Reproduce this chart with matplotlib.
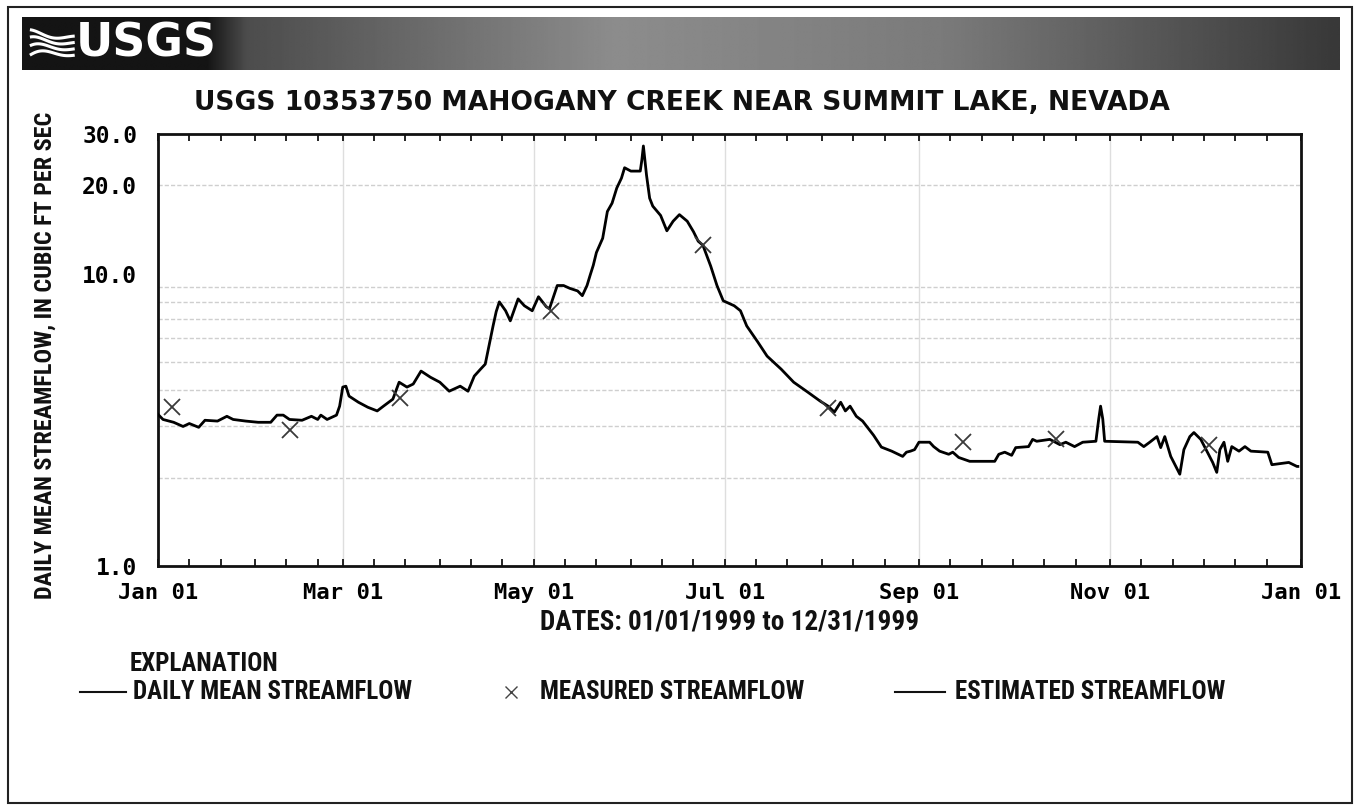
import numpy as np
import pandas as pd
import matplotlib
matplotlib.use("Agg")
import matplotlib.pyplot as plt
import matplotlib.dates as mdates
from matplotlib import font_manager as fm
from matplotlib.lines import Line2D
from matplotlib.patches import Rectangle
from matplotlib.ticker import NullLocator, FixedLocator

# ---------------- data ----------------
title = "USGS 10353750 MAHOGANY CREEK NEAR SUMMIT LAKE, NEVADA"
ylabel = "DAILY MEAN STREAMFLOW, IN CUBIC FT PER SEC"
xlabel = "DATES: 01/01/1999 to 12/31/1999"
start_date = "1999-01-01"
end_date = "2000-01-01"

# daily mean streamflow: day offset from Jan 1 1999, value (cfs)
flow_days = [0, 1.6, 5, 8, 10, 13, 15, 19, 22, 24, 28, 32, 36, 38, 40, 42, 46, 49, 51, 52,
             54, 57, 58, 59, 60, 61, 64, 67, 70, 72, 75, 77, 79.5, 81.5, 84, 87, 90, 93, 96.5, 99,
             101, 103, 104.5, 105.5, 107, 108, 109, 111, 112.5, 115, 117, 119.5, 121.5, 124, 125,
             127.5, 129.5, 131.5, 134, 135.5, 137, 138, 139, 140, 142, 143.5, 145, 146.5, 148, 149,
             151, 154, 154.5, 155, 155.5, 156, 157, 158, 160.5, 162.5, 164.5, 166.5, 169, 171, 172.5,
             174, 176.5, 178.5, 180.5, 184, 186, 188, 191.5, 194.5, 199, 203, 207.5, 211.5, 214, 216,
             218, 219.5, 221, 223, 225, 228.5, 231, 234.3, 237.8, 239, 240.3, 241.6, 243, 246.4,
             247.7, 249.6, 252.5, 253.8, 255.7, 259.2, 261.7, 267.2, 268.5, 270.4, 272.6, 273.9,
             278, 279.3, 280.6, 284.8, 288, 289.9, 292.7, 295.3, 299.5, 300.4, 301, 301.7, 302.3,
             312.9, 314.8, 316.7, 319, 320.2, 321.5, 323.4, 326.3, 327.6, 329.5, 330.8, 333, 336.8,
             338.1, 339.1, 340.4, 341.6, 342.9, 345.2, 347.1, 349, 354.4, 355.7, 361.1, 363.7, 364]
flow_cfs = [3.30, 3.17, 3.10, 3.00, 3.07, 2.98, 3.15, 3.13, 3.25, 3.17, 3.13, 3.10, 3.10, 3.28,
            3.28, 3.17, 3.15, 3.25, 3.17, 3.28, 3.17, 3.28, 3.52, 4.09, 4.12, 3.81, 3.63, 3.49,
            3.39, 3.52, 3.72, 4.25, 4.09, 4.19, 4.64, 4.42, 4.25, 3.96, 4.12, 3.96, 4.46, 4.71,
            4.90, 5.53, 6.62, 7.41, 8.00, 7.46, 6.89, 8.19, 7.76, 7.46, 8.33, 7.70, 7.58, 9.10,
            9.10, 8.90, 8.72, 8.40, 9.10, 9.87, 10.67, 11.8, 13.2, 16.3, 17.4, 19.6, 21.2, 23.0,
            22.4, 22.4, 24.4, 27.3, 24.4, 21.7, 18.1, 17.0, 15.8, 14.0, 15.1, 15.9, 15.1, 13.9,
            12.9, 12.5, 10.6, 9.10, 8.07, 7.76, 7.46, 6.62, 5.84, 5.22, 4.71, 4.25, 3.93, 3.66,
            3.52, 3.36, 3.63, 3.39, 3.52, 3.25, 3.13, 2.80, 2.55, 2.47, 2.37, 2.45, 2.47, 2.50,
            2.65, 2.65, 2.56, 2.47, 2.41, 2.45, 2.35, 2.28, 2.28, 2.28, 2.41, 2.45, 2.39, 2.54,
            2.56, 2.71, 2.67, 2.71, 2.60, 2.65, 2.56, 2.65, 2.67, 3.18, 3.52, 3.18, 2.67, 2.65,
            2.56, 2.65, 2.77, 2.54, 2.77, 2.37, 2.06, 2.50, 2.77, 2.86, 2.71, 2.26, 2.09, 2.50,
            2.65, 2.28, 2.56, 2.47, 2.56, 2.47, 2.45, 2.22, 2.26, 2.19, 2.19]

# measured streamflow (x markers)
meas_days = [4.5, 42, 77.3, 125.6, 173.9, 214, 257, 286.7, 335.6]
meas_cfs = [3.49, 2.91, 3.75, 7.46, 12.5, 3.46, 2.65, 2.71, 2.60]

ytick_values = [1, 10, 20, 30]
ytick_labels = ["1.0", "10.0", "20.0", "30.0"]
xtick_dates = ["1999-01-01", "1999-03-01", "1999-05-01", "1999-07-01",
               "1999-09-01", "1999-11-01", "2000-01-01"]
xtick_labels = ["Jan 01", "Mar 01", "May 01", "Jul 01", "Sep 01", "Nov 01", "Jan 01"]
hgrid_values = [2, 3, 4, 5, 6, 7, 8, 9, 20]
vgrid_dates = ["1999-03-01", "1999-05-01", "1999-07-01", "1999-09-01", "1999-11-01"]
legend_labels = ["DAILY MEAN STREAMFLOW", "MEASURED STREAMFLOW", "ESTIMATED STREAMFLOW"]

# ---------------- figure ----------------
W, H = 1360, 806
fig = plt.figure(figsize=(13.6, 8.06), dpi=100)
fig.patch.set_facecolor("white")


def fx(x):
    return x / W


def fy(y):
    return 1 - y / H


# pick a narrow font if one is installed
ttf = fm.fontManager.ttflist
names = {f.name for f in ttf}
narrow_family, narrow_stretch = "DejaVu Sans", "normal"
for cand in ["Liberation Sans Narrow", "Roboto Condensed", "Open Sans Condensed",
             "Noto Sans Condensed", "DejaVu Sans Condensed"]:
    if cand in names:
        narrow_family = cand
        break
else:
    for f in ttf:
        st = f.stretch
        is_cond = (isinstance(st, str) and "condensed" in st) or (isinstance(st, int) and st < 100)
        if is_cond and f.name in ("DejaVu Sans", "Noto Sans", "Open Sans", "Roboto", "Liberation Sans"):
            narrow_family, narrow_stretch = f.name, "condensed"
            break
is_narrow = narrow_family != "DejaVu Sans" or narrow_stretch == "condensed"
NFONT = dict(family=narrow_family, fontstretch=narrow_stretch, fontweight="bold")

wide = "DejaVu Sans"
mono = "DejaVu Sans Mono"
ink = "#111111"

renderer = fig.canvas.get_renderer()


def fit(t, target, vertical=False, maxsize=None):
    bb = t.get_window_extent(renderer=renderer)
    w = bb.height if vertical else bb.width
    s = t.get_fontsize() * target / w
    if maxsize is not None:
        s = min(s, maxsize)
    t.set_fontsize(s)


# outer frame
fig.add_artist(Rectangle((fx(8), fy(803)), (1352 - 8) / W, (803 - 7) / H,
                         transform=fig.transFigure, fill=False, ec="#222222", lw=1.5))

# header bar with gradient
hax = fig.add_axes([fx(22), fy(70), (1340 - 22) / W, (70 - 17) / H])
gx = np.linspace(0, 1, 600)
gv = np.interp(gx, [0, 0.14, 0.17, 0.45, 0.70, 1.0], [0.08, 0.08, 0.30, 0.55, 0.48, 0.22])
hax.imshow(np.tile(gv, (20, 1)), cmap="gray", vmin=0, vmax=1, aspect="auto",
           extent=[0, 1, 0, 1], interpolation="bilinear")
hax.set_xlim(0, 1)
hax.set_ylim(0, 1)
hax.axis("off")
tt = np.linspace(0, 1, 40)
for k in range(4):
    xs = 0.006 + 0.034 * tt
    ys = 0.28 + 0.12 * k + 0.12 * np.sin(np.pi * tt * 1.4 + k * 0.5) * (1 - tt)
    hax.plot(xs, ys, color="white", lw=2.2, solid_capstyle="butt")
fig.text(fx(76), fy(44), "USGS", color="white", fontsize=33, fontweight="black",
         family=wide, va="center", ha="left")

# title
t_title = fig.text(fx(682), fy(103), title, fontsize=18, fontweight="bold", family=wide,
                   ha="center", va="center", color=ink)
fit(t_title, 975)

# main axes
ax = fig.add_axes([fx(158), fy(566), (1301 - 158) / W, (566 - 134) / H])
ax.set_yscale("log")
ax.set_ylim(1, 30)
t0 = pd.Timestamp(start_date)
ax.set_xlim(t0, pd.Timestamp(end_date))

for v in hgrid_values:
    ax.axhline(v, color="#cfcfcf", lw=1.0, ls=(0, (3, 1.5)), zorder=0)
for d in vgrid_dates:
    ax.axvline(pd.Timestamp(d), color="#dedede", lw=1.0, zorder=0)

fdates = t0 + pd.to_timedelta(flow_days, unit="D")
mdts = t0 + pd.to_timedelta(meas_days, unit="D")
ax.plot(fdates, flow_cfs, color="black", lw=2.0, zorder=3)
ax.plot(mdts, meas_cfs, ls="none", marker="x", ms=12, mew=1.3, color="#3a3a3a", zorder=4)

for s in ax.spines.values():
    s.set_linewidth(2.0)
    s.set_color(ink)

ax.yaxis.set_major_locator(FixedLocator(ytick_values))
ax.yaxis.set_minor_locator(NullLocator())
ax.set_yticklabels(ytick_labels)
ax.tick_params(axis="y", length=0, pad=15, labelsize=16.5)
for lab in ax.get_yticklabels():
    lab.set_fontweight("bold")
    lab.set_family(mono)

ax.xaxis.set_major_locator(FixedLocator(mdates.date2num(pd.to_datetime(xtick_dates))))
ax.set_xticklabels(xtick_labels)
ax.xaxis.set_minor_locator(mdates.DayLocator(bymonthday=[1, 11, 21]))
ax.tick_params(axis="x", which="both", direction="in", length=5, width=1.2,
               top=True, bottom=True, pad=12, labelsize=16)
for lab in ax.get_xticklabels():
    lab.set_fontweight("bold")
    lab.set_family(mono)

# x label
t_x = fig.text(fx(730), fy(622), xlabel, fontsize=14, ha="center", va="center",
               color=ink, **NFONT)
fit(t_x, 505, maxsize=19.5 if is_narrow else 13.5)

# y label
t_y = fig.text(fx(45), fy(355), ylabel, fontsize=14, rotation=90, ha="center",
               va="center", color=ink, **NFONT)
fit(t_y, 490, vertical=True, maxsize=18)

# explanation / legend
ly = fy(692)
t_l1 = fig.text(fx(133), ly, legend_labels[0], fontsize=14, ha="left", va="center",
                color=ink, **NFONT)
fit(t_l1, 290, maxsize=18)
fs_leg = t_l1.get_fontsize()
fig.text(fx(130), fy(664), "EXPLANATION", fontsize=fs_leg, ha="left", va="center",
         color=ink, **NFONT)
fig.add_artist(Line2D([fx(80), fx(126)], [ly, ly], color=ink, lw=1.5,
                      transform=fig.transFigure))
fig.add_artist(Line2D([fx(511)], [ly], ls="none", marker="x", ms=9, mew=1.0,
                      color="#444444", transform=fig.transFigure))
fig.text(fx(540), ly, legend_labels[1], fontsize=fs_leg, ha="left", va="center",
         color=ink, **NFONT)
fig.add_artist(Line2D([fx(895), fx(945)], [ly, ly], color=ink, lw=1.5,
                      transform=fig.transFigure))
fig.text(fx(955), ly, legend_labels[2], fontsize=fs_leg, ha="left", va="center",
         color=ink, **NFONT)

fig.savefig("out.png", dpi=100, facecolor="white")
